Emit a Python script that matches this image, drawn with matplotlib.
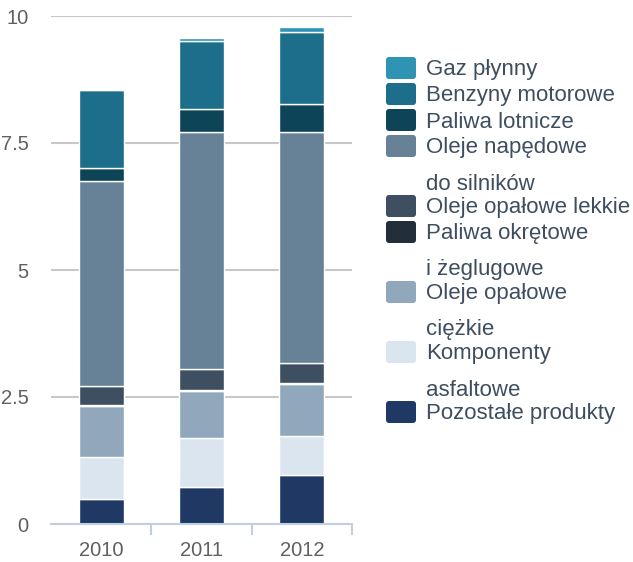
import matplotlib
matplotlib.use('Agg')
import matplotlib.pyplot as plt
from matplotlib.patches import FancyBboxPatch
import numpy as np

plt.rcParams['font.family'] = ['Liberation Sans', 'DejaVu Sans']

#-------------------------------------------
# dane
#-------------------------------------------
years = ['2010', '2011', '2012']

# od dołu stosu do góry
series_names = ['Pozostałe produkty', 'Komponenty\nasfaltowe', 'Oleje opałowe\nciężkie',
                'Paliwa okrętowe\ni żeglugowe', 'Oleje opałowe lekkie',
                'Oleje napędowe\ndo silników', 'Paliwa lotnicze', 'Benzyny motorowe', 'Gaz płynny']
pozostale = [0.49, 0.73, 0.96]
komponenty = [0.83, 0.97, 0.77]
ciezkie = [1.00, 0.92, 1.03]
okretowe = [0.02, 0.02, 0.02]
lekkie = [0.38, 0.42, 0.39]
napedowe = [4.04, 4.65, 4.54]
lotnicze = [0.25, 0.45, 0.55]
benzyny = [1.53, 1.35, 1.43]
gaz = [0.01, 0.06, 0.10]
series_values = [pozostale, komponenty, ciezkie, okretowe, lekkie, napedowe, lotnicze, benzyny, gaz]

colors = ['#1f3864', '#dbe5f0', '#91a8bc', '#222f3b', '#3d4f60',
          '#678196', '#0d4458', '#1c6e8a', '#2f93b4']

yticks = [0, 2.5, 5, 7.5, 10]
ytick_labels = ['0', '2.5', '5', '7.5', '10']

W, H = 633, 562
fig = plt.figure(figsize=(W / 100, H / 100), dpi=100)
ax = fig.add_axes([51 / W, 1 - 524 / H, 301 / W, 508 / H])

x = np.arange(len(years))
bottom = np.zeros(len(years))
for vals, col in zip(series_values, colors):
    ax.bar(x, vals, width=0.45, bottom=bottom, color=col, edgecolor='white', linewidth=1, zorder=3)
    bottom += np.array(vals)

ax.set_xlim(-0.5, 2.5)
ax.set_ylim(0, 10)
ax.set_yticks(yticks)
ax.set_yticklabels(ytick_labels)
ax.set_xticks(x)
ax.set_xticklabels(years)
ax.set_xticks([0.5, 1.5, 2.5], minor=True)
ax.yaxis.grid(True, color='#c8c8c8', linewidth=1.5, zorder=0)
ax.tick_params(axis='y', length=0, pad=16, labelsize=14.5, labelcolor='#606060')
ax.tick_params(axis='x', which='major', length=0, pad=12, labelsize=14.5, labelcolor='#606060')
ax.tick_params(axis='x', which='minor', length=8, width=1.5, color='#c0d0e0', direction='out')
for s in ['top', 'right', 'left']:
    ax.spines[s].set_visible(False)
ax.spines['bottom'].set_color('#c0d0e0')
ax.spines['bottom'].set_linewidth(1.5)
ax.spines['bottom'].set_zorder(4)

# legenda rysowana w pikselach
lax = fig.add_axes([0, 0, 1, 1])
lax.set_xlim(0, W)
lax.set_ylim(H, 0)
lax.axis('off')
y = 68
for name, col in zip(series_names[::-1], colors[::-1]):
    lax.add_patch(FancyBboxPatch((386, y - 11), 30, 22, boxstyle='round,pad=0,rounding_size=3',
                                 facecolor=col, edgecolor='none'))
    lines = name.split('\n')
    lax.text(426, y + 2, lines[0], fontsize=16, color='#3e4e60', va='center', ha='left')
    for extra in lines[1:]:
        y += 36
        lax.text(426, y + 2, extra, fontsize=16, color='#3e4e60', va='center', ha='left')
        y -= 2
    y += 26

fig.savefig('out.png', dpi=100)
